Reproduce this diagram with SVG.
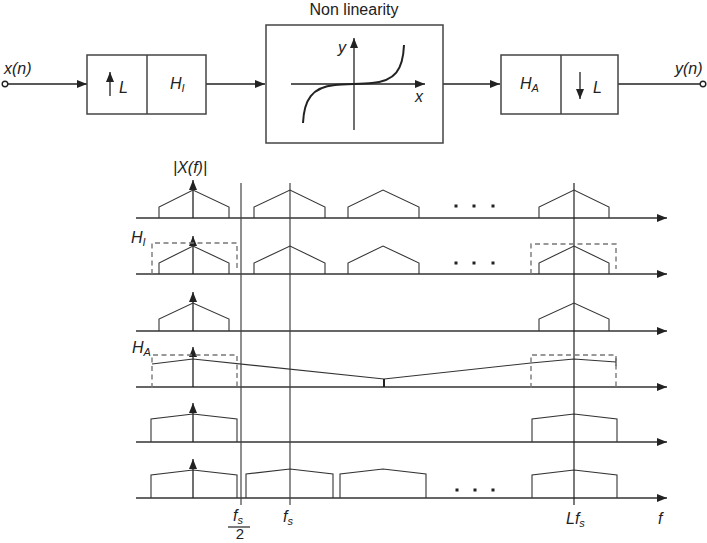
<svg xmlns="http://www.w3.org/2000/svg" width="707" height="543" viewBox="0 0 707 543">
<defs>
<marker id="ah" viewBox="0 0 10 8" refX="10" refY="4" markerWidth="10" markerHeight="8" markerUnits="userSpaceOnUse" orient="auto"><path d="M0,0 L10,4 L0,8 Z" fill="#222"/></marker>
</defs>
<style>
.ln{stroke:#222;stroke-width:1.3;fill:none}
.box{stroke:#444;stroke-width:1.5;fill:#fff}
.ax{stroke:#333;stroke-width:1.5;fill:none}
.vl{stroke:#444;stroke-width:1.2;fill:none}
.sp{stroke:#333;stroke-width:1.1;fill:none}
.dash{stroke:#777;stroke-width:1.4;fill:none;stroke-dasharray:5,3.5}
.t{font-family:"Liberation Sans",Arial,sans-serif;font-size:16px;fill:#222;font-style:italic}
.tn{font-family:"Liberation Sans",Arial,sans-serif;font-size:16px;fill:#222}
.sub{font-size:11px}
.dot{fill:#222}
</style>

<g id="connectors">
<line class="ln" x1="8" y1="84" x2="87" y2="84" marker-end="url(#ah)"/>
<line class="ln" x1="206" y1="84" x2="265" y2="84" marker-end="url(#ah)"/>
<line class="ln" x1="443" y1="84" x2="500" y2="84" marker-end="url(#ah)"/>
<line class="ln" x1="618" y1="84" x2="700" y2="84"/>
</g>

<g id="input">
<circle cx="5" cy="84" r="2.8" fill="#fff" stroke="#222" stroke-width="1.4"/>
<text class="t" x="4" y="74">x(n)</text>
</g>

<g id="interp">
<rect class="box" x="87" y="55" width="119" height="59"/>
<line class="box" x1="147" y1="55" x2="147" y2="114"/>
<line class="ln" x1="110" y1="96" x2="110" y2="72" marker-end="url(#ah)"/>
<text class="t" x="119" y="93">L</text>
<text class="t" x="170" y="89">H<tspan class="sub" dy="3">I</tspan></text>
</g>

<g id="nonlinearity">
<text class="tn" x="354" y="15" text-anchor="middle">Non linearity</text>
<rect class="box" x="266" y="25" width="177" height="118"/>
<line class="ln" x1="291" y1="84" x2="425" y2="84" marker-end="url(#ah)"/>
<line class="ln" x1="354" y1="130" x2="354" y2="38" marker-end="url(#ah)"/>
<path d="M303,123 C304,100 312,87 335,85 C345,84 362,84 372,83 C395,81 403,70 404,45" stroke="#222" stroke-width="2" fill="none"/>
<text class="t" x="338" y="53">y</text>
<text class="t" x="415" y="102">x</text>
</g>

<g id="decim">
<rect class="box" x="501" y="55" width="117" height="59"/>
<line class="box" x1="561" y1="55" x2="561" y2="114"/>
<text class="t" x="520" y="89">H<tspan class="sub" dy="3">A</tspan></text>
<line class="ln" x1="580" y1="72" x2="580" y2="99" marker-end="url(#ah)"/>
<text class="t" x="593" y="93">L</text>
</g>

<g id="output">
<circle cx="703" cy="84" r="2.8" fill="#fff" stroke="#222" stroke-width="1.4"/>
<text class="t" x="675" y="74">y(n)</text>
</g>

<g id="spectra">
<line class="ax" x1="136" y1="218" x2="667" y2="218" marker-end="url(#ah)"/>
<line class="ax" x1="136" y1="274" x2="667" y2="274" marker-end="url(#ah)"/>
<line class="ax" x1="136" y1="331" x2="667" y2="331" marker-end="url(#ah)"/>
<line class="ax" x1="136" y1="387" x2="667" y2="387" marker-end="url(#ah)"/>
<line class="ax" x1="136" y1="442" x2="667" y2="442" marker-end="url(#ah)"/>
<line class="ax" x1="136" y1="498" x2="667" y2="498" marker-end="url(#ah)"/>
<line class="vl" x1="241" y1="183" x2="241" y2="505"/>
<line class="vl" x1="290" y1="183" x2="290" y2="505"/>
<line class="vl" x1="574" y1="183" x2="574" y2="505" style="stroke:#222"/>

<!-- row 1 -->
<text class="t" x="173" y="173">|X(f)|</text>
<line class="ln" x1="193" y1="218" x2="193" y2="180" marker-end="url(#ah)"/>
<path class="sp" d="M159,218 V207 L193,190 L229,207 V218"/>
<path class="sp" d="M254,218 V207 L290,190 L325,207 V218"/>
<path class="sp" d="M348,218 V207 L383,190 L419,207 V218"/>
<path class="sp" d="M539,218 V207 L574,190 L609,207 V218"/>
<rect class="dot" x="454.5" y="204.5" width="3" height="3"/>
<rect class="dot" x="472.5" y="204.5" width="3" height="3"/>
<rect class="dot" x="491.5" y="204.5" width="3" height="3"/>

<!-- row 2 -->
<text class="t" x="131" y="243">H<tspan class="sub" dy="3">I</tspan></text>
<line class="ln" x1="193" y1="274" x2="193" y2="236" marker-end="url(#ah)"/>
<path class="sp" d="M159,274 V263 L193,246 L229,263 V274"/>
<path class="sp" d="M254,274 V263 L290,246 L325,263 V274"/>
<path class="sp" d="M348,274 V263 L383,246 L419,263 V274"/>
<path class="sp" d="M539,274 V263 L574,246 L609,263 V274"/>
<path class="dash" d="M152,274 V243 H237 V269"/>
<path class="dash" d="M531,274 V244 H616 V269"/>
<rect class="dot" x="454.5" y="261.5" width="3" height="3"/>
<rect class="dot" x="472.5" y="261.5" width="3" height="3"/>
<rect class="dot" x="491.5" y="261.5" width="3" height="3"/>

<!-- row 3 -->
<line class="ln" x1="193" y1="331" x2="193" y2="292" marker-end="url(#ah)"/>
<path class="sp" d="M159,331 V319 L193,303 L229,319 V331"/>
<path class="sp" d="M539,331 V319 L574,303 L609,319 V331"/>

<!-- row 4 -->
<text class="t" x="132" y="353">H<tspan class="sub" dy="3">A</tspan></text>
<line class="ln" x1="193" y1="387" x2="193" y2="347" marker-end="url(#ah)"/>
<path class="sp" d="M152,364 L193,359 L384,379 L531,363 L574,359 L616,362"/>
<line x1="384" y1="379" x2="384" y2="387" stroke="#222" stroke-width="2"/>
<line class="sp" x1="616" y1="358" x2="616" y2="366"/>
<path class="dash" d="M152,388 V355 H237 V387"/>
<path class="dash" d="M531,388 V355 H616 V387"/>

<!-- row 5 -->
<line class="ln" x1="193" y1="442" x2="193" y2="403" marker-end="url(#ah)"/>
<path class="sp" d="M151,442 V419 L193,414 L237,419 V442"/>
<path class="sp" d="M532,442 V419 L574,414 L617,419 V442"/>

<!-- row 6 -->
<line class="ln" x1="193" y1="498" x2="193" y2="459" marker-end="url(#ah)"/>
<path class="sp" d="M151,498 V475 L193,470 L237,475 V498"/>
<path class="sp" d="M246,498 V474 L290,469 L333,474 V498"/>
<path class="sp" d="M340,498 V474 L383,469 L426,474 V498"/>
<path class="sp" d="M532,498 V475 L574,470 L617,475 V498"/>
<rect class="dot" x="455.5" y="488.5" width="3" height="3"/>
<rect class="dot" x="473.5" y="488.5" width="3" height="3"/>
<rect class="dot" x="491.5" y="488.5" width="3" height="3"/>

<!-- axis labels -->
<text class="t" x="233" y="521">f<tspan class="sub" dy="3">s</tspan></text>
<line x1="228" y1="527" x2="250" y2="527" stroke="#222" stroke-width="1.2"/>
<text class="tn" x="240" y="539" text-anchor="middle" style="font-size:15px">2</text>
<text class="t" x="283" y="522">f<tspan class="sub" dy="3">s</tspan></text>
<text class="t" x="566" y="524">Lf<tspan class="sub" dy="3">s</tspan></text>
<text class="t" x="658" y="524">f</text>
</g>
</svg>
